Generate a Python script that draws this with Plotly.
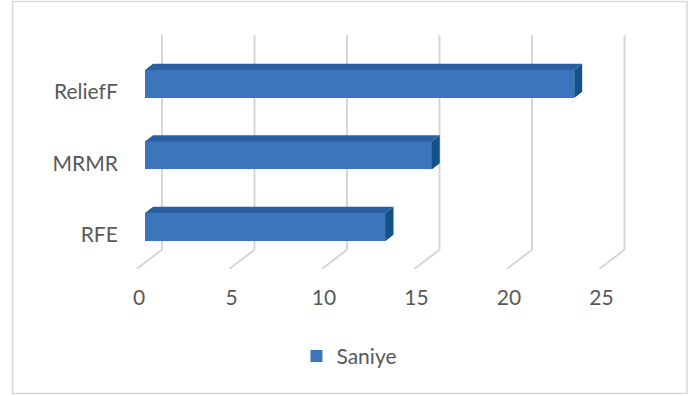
import plotly.graph_objects as go

# ---- data ----
categories = ["RFE", "MRMR", "ReliefF"]
values = [13.0, 15.5, 23.2]
series_name = "Saniye"
x_ticks = [0, 5, 10, 15, 20, 25]

# ---- geometry / style (layout) ----
W, H = 691, 396
L, R, T, B = 130, 51, 20, 113
X_RANGE = [-1.7297, 25.838]
Y_RANGE = [-0.965, 2.7133]
WALL_BOTTOM, WALL_TOP = -0.5, 2.5
FLOOR_DX, FLOOR_DC = -1.351, -0.2657      # shift from back wall to front of floor
D_BACK, D_FRONT = 0.36, 0.68              # bar depth (fraction of floor depth)
HALF = 0.196                              # half bar thickness
XLAB_SHIFT = -1.243
YLAB_SHIFT = -0.29

FRONT = "#3C75BC"
TOP = "#2A60A0"
SIDE = "#15508B"
GRID = "#D6D6D6"
TXT = "#595959"
FONT = "Lato"

ypos = list(range(len(categories)))
dx1, dc1 = FLOOR_DX * D_BACK, FLOOR_DC * D_BACK
dx2, dc2 = FLOOR_DX * D_FRONT, FLOOR_DC * D_FRONT

fig = go.Figure()

# front faces of the bars
fig.add_trace(go.Bar(
    orientation="h",
    y=[p + dc2 for p in ypos],
    x=values,
    base=dx2,
    width=2 * HALF,
    marker=dict(color=FRONT, line=dict(width=0)),
    name=series_name,
    showlegend=True,
    hoverinfo="skip",
))

# top and side faces
for p, v in zip(ypos, values):
    # top face
    fig.add_trace(go.Scatter(
        x=[dx2, v + dx2, v + dx1, dx1, dx2],
        y=[p + dc2 + HALF, p + dc2 + HALF, p + dc1 + HALF, p + dc1 + HALF, p + dc2 + HALF],
        mode="lines", fill="toself", fillcolor=TOP, line=dict(width=0),
        showlegend=False, hoverinfo="skip",
    ))
    # right side face
    fig.add_trace(go.Scatter(
        x=[v + dx2, v + dx2, v + dx1, v + dx1, v + dx2],
        y=[p + dc2 - HALF, p + dc2 + HALF, p + dc1 + HALF, p + dc1 - HALF, p + dc2 - HALF],
        mode="lines", fill="toself", fillcolor=SIDE, line=dict(width=0),
        showlegend=False, hoverinfo="skip",
    ))

shapes = []
# back wall gridlines and floor lines
for t in x_ticks:
    shapes.append(dict(type="line", xref="x", yref="y", x0=t, x1=t,
                       y0=WALL_BOTTOM, y1=WALL_TOP, layer="below",
                       line=dict(color=GRID, width=2)))
    shapes.append(dict(type="line", xref="x", yref="y", x0=t, x1=t + FLOOR_DX,
                       y0=WALL_BOTTOM, y1=WALL_BOTTOM + FLOOR_DC, layer="below",
                       line=dict(color=GRID, width=2)))

# outer chart border (pixel -> paper)
pw, ph = W - L - R, H - T - B
def px(x):
    return (x - L) / pw
def py(y):
    return (H - B - y) / ph
shapes.append(dict(type="rect", xref="paper", yref="paper",
                   x0=px(12.5), x1=px(687), y0=py(1.5), y1=py(393.5),
                   line=dict(color="#D9D9D9", width=1.5), layer="below"))

fig.update_layout(
    width=W, height=H,
    margin=dict(l=L, r=R, t=T, b=B, pad=0),
    paper_bgcolor="white", plot_bgcolor="white",
    font=dict(family=FONT, size=21, color=TXT),
    shapes=shapes,
    showlegend=True,
    legend=dict(orientation="h", xref="container", yref="container",
                x=0.429, y=0.1, xanchor="left", yanchor="middle",
                font=dict(family=FONT, size=21, color=TXT)),
    xaxis=dict(range=X_RANGE, showgrid=False, zeroline=False, showline=False,
               tickvals=[t + XLAB_SHIFT for t in x_ticks],
               ticktext=[str(t) for t in x_ticks],
               ticks="", ticklen=0,
               fixedrange=True),
    yaxis=dict(range=Y_RANGE, showgrid=False, zeroline=False, showline=False,
               tickvals=[p + YLAB_SHIFT for p in ypos],
               ticktext=categories,
               ticks="outside", ticklen=7, tickcolor="rgba(0,0,0,0)",
               fixedrange=True),
    bargap=0,
)

fig.write_html("out.html")
